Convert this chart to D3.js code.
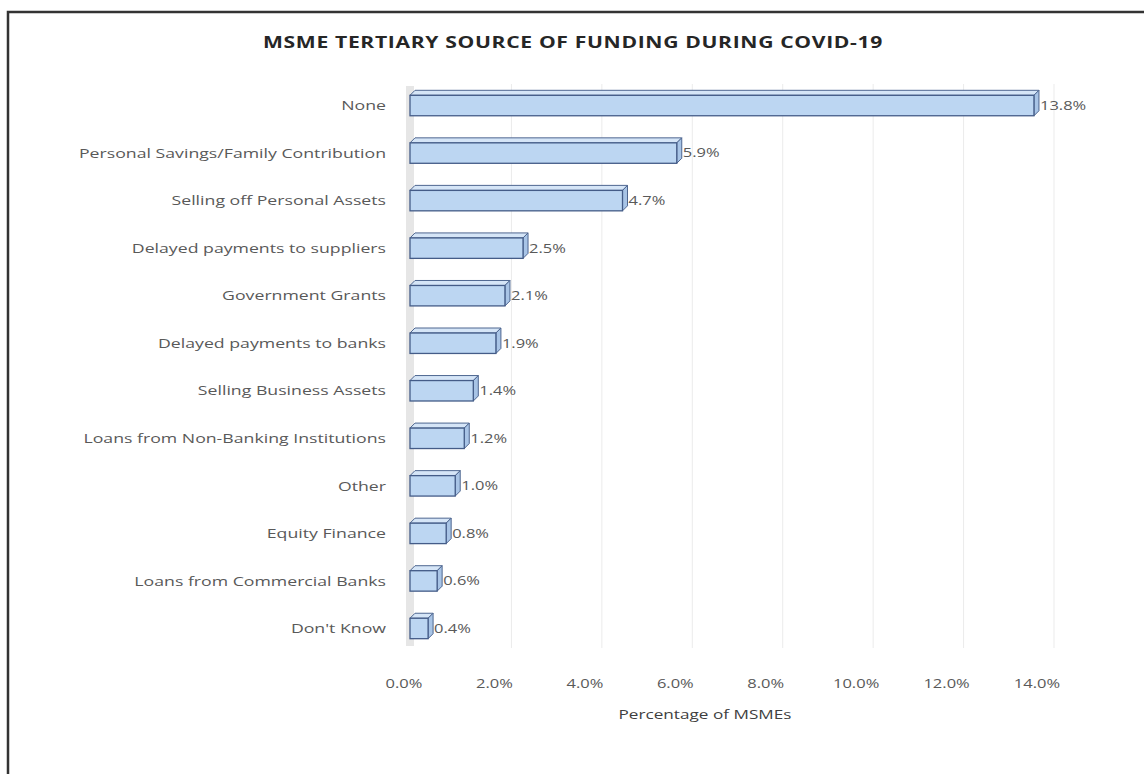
<!DOCTYPE html>
<html>
<head>
<meta charset="utf-8">
<script src="https://cdn.jsdelivr.net/npm/d3@7"></script>
<style>
  body { margin: 0; background: #fff; }
  svg { display: block; font-family: "Open Sans", sans-serif; }
</style>
</head>
<body>
<svg id="chart"></svg>
<script>
const categories = [
  "None",
  "Personal Savings/Family Contribution",
  "Selling off Personal Assets",
  "Delayed payments to suppliers",
  "Government Grants",
  "Delayed payments to banks",
  "Selling Business Assets",
  "Loans from Non-Banking Institutions",
  "Other",
  "Equity Finance",
  "Loans from Commercial Banks",
  "Don't Know"
];
const values = [13.8, 5.9, 4.7, 2.5, 2.1, 1.9, 1.4, 1.2, 1.0, 0.8, 0.6, 0.4];
const tickValues = [0, 2, 4, 6, 8, 10, 12, 14];
const title = "MSME TERTIARY SOURCE OF FUNDING DURING COVID-19";
const axisTitle = "Percentage of MSMEs";

const width = 1144, height = 774;
const sx = 1.32; // the source picture is stretched sideways, text too
const svg = d3.select("#chart").attr("width", width).attr("height", height);

// outer frame (runs off right and bottom)
svg.append("path")
  .attr("d", "M8,774 V12 H1144")
  .attr("fill", "none").attr("stroke", "#333").attr("stroke-width", 2.5);

const x = d3.scaleLinear().domain([0, 14]).range([410, 1043]);
const y = d3.scaleBand().domain(categories).range([82, 652]).paddingInner(0.57).paddingOuter(0.28);
const depth = 5;       // 3D offset
const gridShift = 11;  // gridlines on back wall

// stretched text helper
function label(sel, tx, ty, anchor, size, fill, weight) {
  const g = sel.append("g").attr("transform", `translate(${tx},${ty}) scale(${sx},1)`);
  return g.append("text")
    .attr("dy", "0.35em")
    .attr("text-anchor", anchor)
    .attr("font-size", size)
    .attr("font-weight", weight || "normal")
    .attr("fill", fill);
}

// --- back wall + gridlines ---
svg.append("rect")
  .attr("x", x(0) - 4).attr("y", 86)
  .attr("width", 8).attr("height", 560)
  .attr("fill", "#e6e6e6");

svg.append("g")
  .selectAll("line")
  .data(tickValues.slice(1))
  .join("line")
  .attr("x1", d => x(d) + gridShift).attr("x2", d => x(d) + gridShift)
  .attr("y1", 84).attr("y2", 648)
  .attr("stroke", "#ebebeb").attr("stroke-width", 1);

// --- bars ---
const data = categories.map((c, i) => ({ cat: c, v: values[i] }));
const bars = svg.append("g")
  .selectAll("g")
  .data(data)
  .join("g");

const h = y.bandwidth();

// top face
bars.append("path")
  .attr("d", d => {
    const x0 = x(0), x1 = x(d.v), yt = y(d.cat);
    return `M${x0},${yt} L${x0 + depth},${yt - depth} L${x1 + depth},${yt - depth} L${x1},${yt} Z`;
  })
  .attr("fill", "#d5e5f7").attr("stroke", "#4e6690").attr("stroke-width", 1);

// right face
bars.append("path")
  .attr("d", d => {
    const x1 = x(d.v), yt = y(d.cat);
    return `M${x1},${yt} L${x1 + depth},${yt - depth} L${x1 + depth},${yt + h - depth} L${x1},${yt + h} Z`;
  })
  .attr("fill", "#a8c4e6").attr("stroke", "#4e6690").attr("stroke-width", 1);

// front face
bars.append("rect")
  .attr("x", x(0)).attr("y", d => y(d.cat))
  .attr("width", d => x(d.v) - x(0)).attr("height", h)
  .attr("fill", "#bcd6f2").attr("stroke", "#445c88").attr("stroke-width", 1.3);

// value labels
const valG = svg.append("g");
data.forEach(d => {
  label(valG, x(d.v) + depth + 1, y(d.cat) + h / 2, "start", 12.5, "#595959")
    .text(d.v.toFixed(1) + "%");
});

// --- category labels ---
const catG = svg.append("g");
categories.forEach(c => {
  label(catG, 386, y(c) + h / 2, "end", 13.4, "#595959").text(c);
});

// --- x tick labels ---
const tickG = svg.append("g");
tickValues.forEach(t => {
  label(tickG, x(t) - 6, 684, "middle", 12.5, "#595959").text(t.toFixed(1) + "%");
});

// axis title
label(svg, 705, 714, "middle", 13, "#404040").text(axisTitle);

// chart title
label(svg, 573, 42, "middle", 16, "#262626", "bold")
  .attr("letter-spacing", 0.5)
  .text(title);
</script>
</body>
</html>
